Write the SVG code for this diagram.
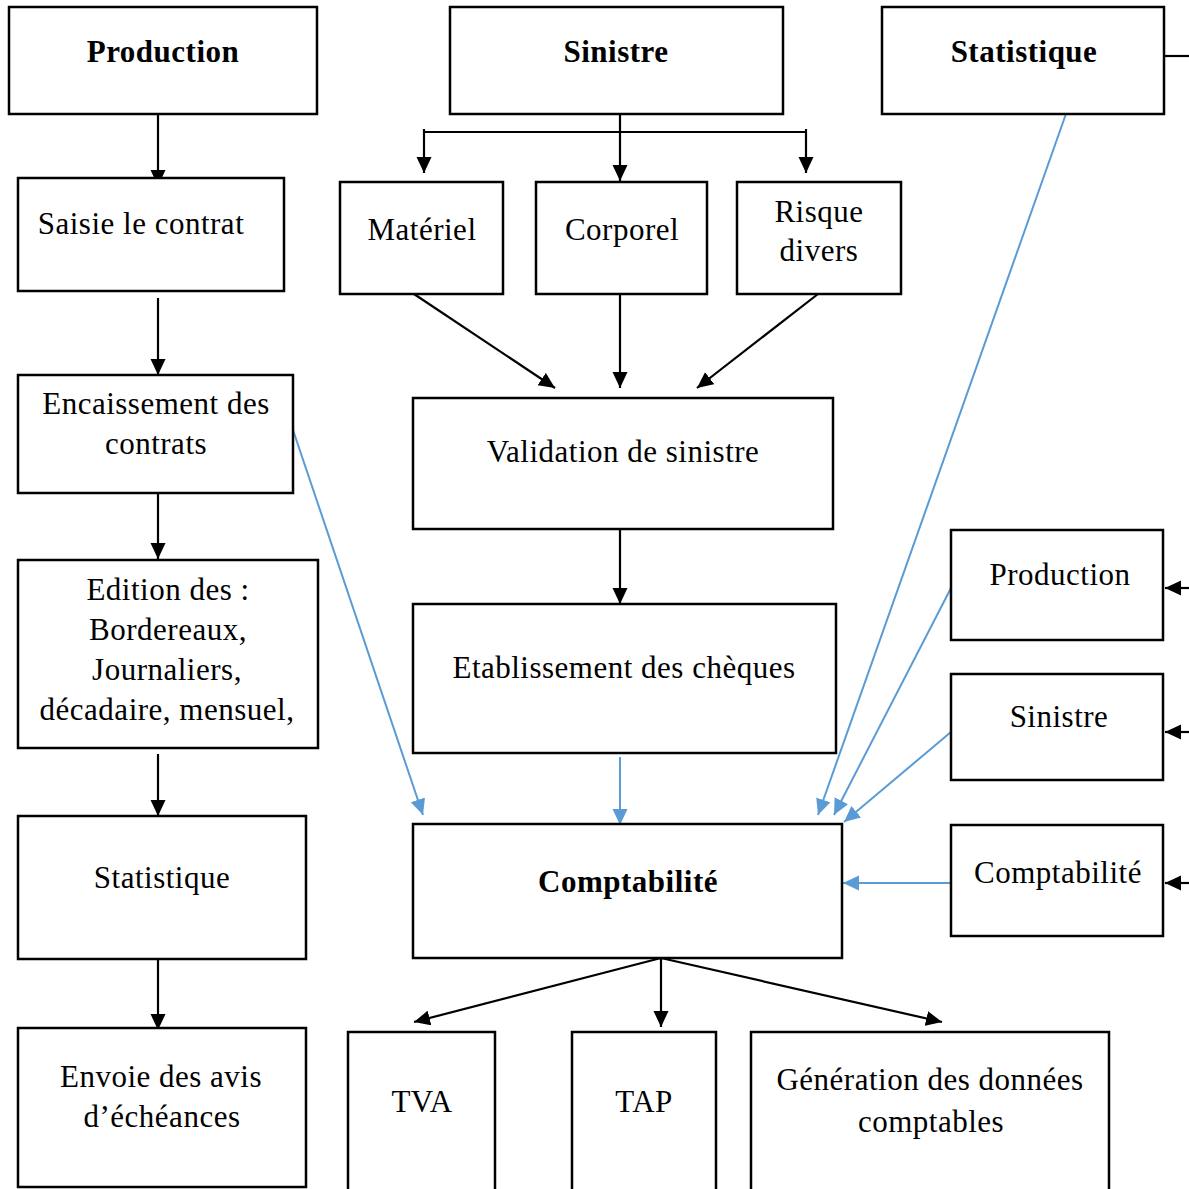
<svg xmlns="http://www.w3.org/2000/svg" width="1189" height="1189" viewBox="0 0 1189 1189">
<defs>
<style>
.box{fill:#fff;stroke:#000;stroke-width:2.5}
.t{font-family:"Liberation Serif","Times New Roman",serif;font-size:31px;letter-spacing:0.5px;fill:#000;text-anchor:middle}
.b{font-weight:bold}
.k{stroke:#000;stroke-width:2.2;fill:none}
.bl{stroke:#5B9BD5;stroke-width:2;fill:none}
</style>
<marker id="ak" markerUnits="userSpaceOnUse" markerWidth="17" markerHeight="16" refX="16" refY="7.5" orient="auto"><path d="M0,0 L16,7.5 L0,15 z" fill="#000"/></marker>
<marker id="ab" markerUnits="userSpaceOnUse" markerWidth="17" markerHeight="16" refX="16" refY="7.5" orient="auto"><path d="M0,0 L16,7.5 L0,15 z" fill="#5B9BD5"/></marker>
</defs>
<rect width="1189" height="1189" fill="#fff"/>

<g id="connectors">
<line class="k" x1="158" y1="114" x2="158" y2="186" marker-end="url(#ak)"/>
<line class="k" x1="158" y1="298" x2="158" y2="375" marker-end="url(#ak)"/>
<line class="k" x1="158" y1="490" x2="158" y2="559" marker-end="url(#ak)"/>
<line class="k" x1="158" y1="754" x2="158" y2="816" marker-end="url(#ak)"/>
<line class="k" x1="158" y1="959" x2="158" y2="1030" marker-end="url(#ak)"/>

<line class="k" x1="620" y1="114" x2="620" y2="181" marker-end="url(#ak)"/>
<line class="k" x1="424" y1="132" x2="806" y2="132"/>
<line class="k" x1="424" y1="129" x2="424" y2="173" marker-end="url(#ak)"/>
<line class="k" x1="806" y1="129" x2="806" y2="173" marker-end="url(#ak)"/>

<line class="k" x1="414" y1="294" x2="555" y2="388" marker-end="url(#ak)"/>
<line class="k" x1="620" y1="294" x2="620" y2="388" marker-end="url(#ak)"/>
<line class="k" x1="818" y1="294" x2="697" y2="388" marker-end="url(#ak)"/>
<line class="k" x1="620" y1="529" x2="620" y2="604" marker-end="url(#ak)"/>
<line class="bl" x1="620" y1="757" x2="620" y2="825" marker-end="url(#ab)"/>

<line class="k" x1="661" y1="958" x2="414" y2="1022" marker-end="url(#ak)"/>
<line class="k" x1="661" y1="958" x2="661" y2="1027" marker-end="url(#ak)"/>
<line class="k" x1="661" y1="958" x2="942" y2="1022" marker-end="url(#ak)"/>

<line class="k" x1="1164" y1="56" x2="1189" y2="56"/>
<line class="k" x1="1189" y1="588" x2="1165" y2="588" marker-end="url(#ak)"/>
<line class="k" x1="1189" y1="732" x2="1165" y2="732" marker-end="url(#ak)"/>
<line class="k" x1="1189" y1="883" x2="1165" y2="883" marker-end="url(#ak)"/>

<line class="bl" x1="293" y1="430" x2="423" y2="815" marker-end="url(#ab)"/>
<line class="bl" x1="1067" y1="111" x2="818" y2="815" marker-end="url(#ab)"/>
<line class="bl" x1="951" y1="588" x2="834" y2="815" marker-end="url(#ab)"/>
<line class="bl" x1="951" y1="732" x2="844" y2="822" marker-end="url(#ab)"/>
<line class="bl" x1="951" y1="883" x2="843" y2="883" marker-end="url(#ab)"/>
</g>

<g id="production"><rect class="box" x="9" y="7" width="308" height="107"/><text class="t b" x="163" y="62">Production</text></g>
<g id="saisie"><rect class="box" x="18" y="178" width="266" height="113"/><text class="t" x="141" y="234">Saisie le contrat</text></g>
<g id="encaissement"><rect class="box" x="18" y="375" width="275" height="118"/><text class="t" x="156" y="414">Encaissement des</text><text class="t" x="156" y="454">contrats</text></g>
<g id="edition"><rect class="box" x="18" y="560" width="300" height="188"/><text class="t" x="168" y="600">Edition des :</text><text class="t" x="168" y="640">Bordereaux,</text><text class="t" x="167" y="680">Journaliers,</text><text class="t" x="167" y="720">décadaire, mensuel,</text></g>
<g id="statistique-left"><rect class="box" x="18" y="816" width="288" height="143"/><text class="t" x="162" y="888">Statistique</text></g>
<g id="envoie"><rect class="box" x="18" y="1028" width="288" height="159"/><text class="t" x="161" y="1087">Envoie des avis</text><text class="t" x="162" y="1127">d’échéances</text></g>

<g id="sinistre"><rect class="box" x="450" y="7" width="333" height="107"/><text class="t b" x="616" y="62">Sinistre</text></g>
<g id="materiel"><rect class="box" x="340" y="182" width="163" height="112"/><text class="t" x="422" y="240">Matériel</text></g>
<g id="corporel"><rect class="box" x="536" y="182" width="171" height="112"/><text class="t" x="622" y="240">Corporel</text></g>
<g id="risque"><rect class="box" x="737" y="182" width="164" height="112"/><text class="t" x="819" y="222">Risque</text><text class="t" x="819" y="261">divers</text></g>
<g id="validation"><rect class="box" x="413" y="398" width="420" height="131"/><text class="t" x="623" y="462">Validation de sinistre</text></g>
<g id="etablissement"><rect class="box" x="413" y="604" width="423" height="149"/><text class="t" x="624" y="678">Etablissement des chèques</text></g>
<g id="comptabilite"><rect class="box" x="413" y="824" width="429" height="134"/><text class="t b" x="628" y="892">Comptabilité</text></g>
<g id="tva"><rect class="box" x="348" y="1032" width="147" height="170"/><text class="t" x="422" y="1112">TVA</text></g>
<g id="tap"><rect class="box" x="572" y="1032" width="144" height="170"/><text class="t" x="644" y="1112">TAP</text></g>
<g id="generation"><rect class="box" x="751" y="1032" width="358" height="170"/><text class="t" x="930" y="1090">Génération des données</text><text class="t" x="931" y="1132">comptables</text></g>

<g id="statistique"><rect class="box" x="882" y="7" width="282" height="107"/><text class="t b" x="1024" y="62">Statistique</text></g>
<g id="production-right"><rect class="box" x="951" y="530" width="212" height="110"/><text class="t" x="1060" y="585">Production</text></g>
<g id="sinistre-right"><rect class="box" x="951" y="674" width="212" height="106"/><text class="t" x="1059" y="727">Sinistre</text></g>
<g id="comptabilite-right"><rect class="box" x="951" y="825" width="212" height="111"/><text class="t" x="1058" y="883">Comptabilité</text></g>
</svg>
